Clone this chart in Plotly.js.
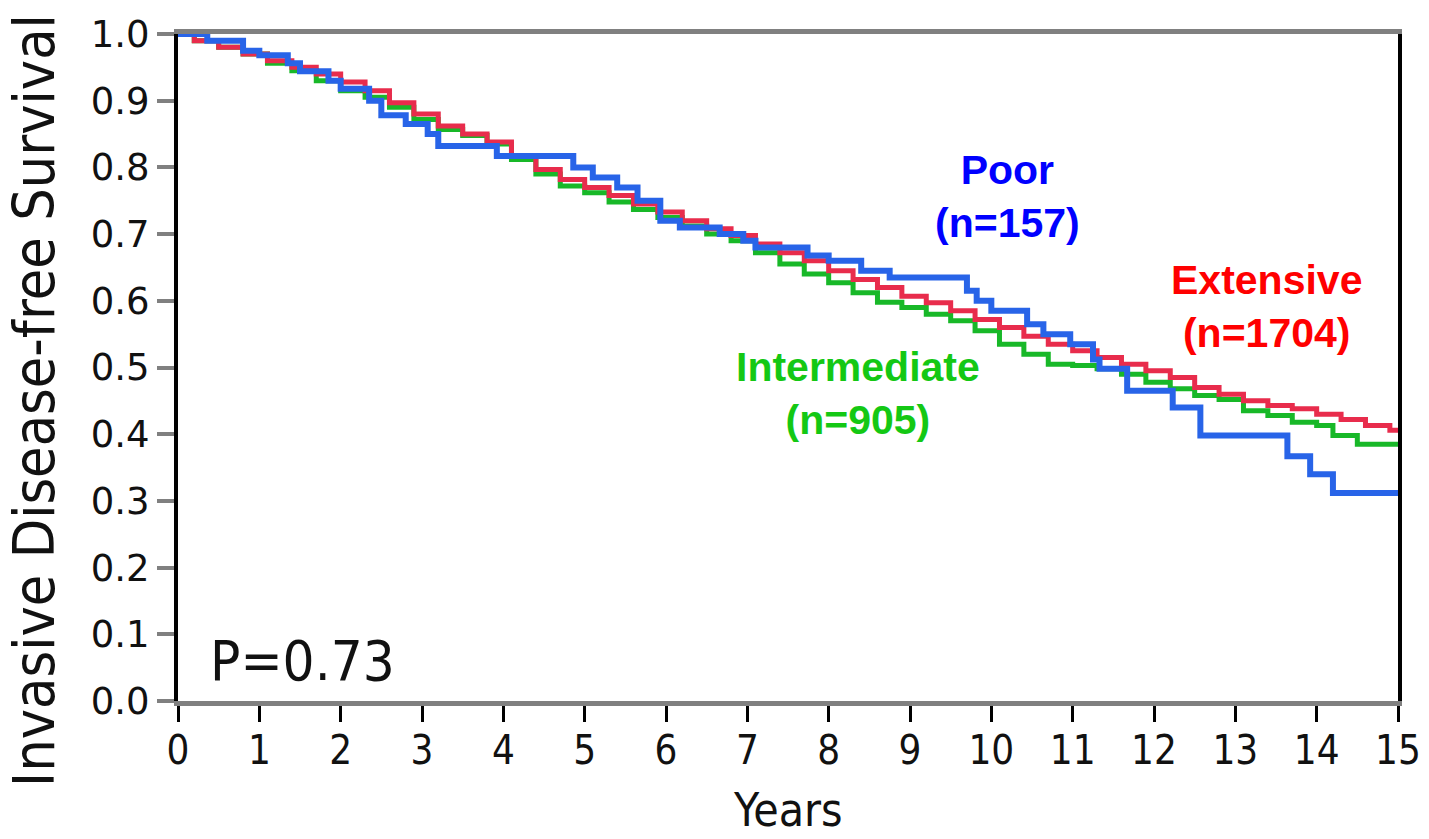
<!DOCTYPE html>
<html>
<head>
<meta charset="utf-8">
<script src="https://cdn.plot.ly/plotly-3.0.1.min.js"></script>
<style>html,body{margin:0;padding:0;background:#fff;}#chart{width:1429px;height:839px;}</style>
</head>
<body>
<div id="chart"></div>
<script>
// Extensive (n=1704)
const extYears = [0,0.2,0.5,0.8,1.1,1.4,1.7,2.0,2.3,2.6,2.9,3.2,3.5,3.8,4.1,4.4,4.7,5.0,5.3,5.6,5.9,6.2,6.5,6.8,7.1,7.4,7.7,8.0,8.3,8.6,8.9,9.2,9.5,9.8,10.1,10.4,10.7,11.0,11.3,11.6,11.9,12.2,12.5,12.8,13.1,13.4,13.7,14.0,14.3,14.6,14.9,15];
const extSurv  = [1.0,0.99,0.98,0.97,0.96,0.95,0.94,0.928,0.915,0.897,0.88,0.862,0.85,0.838,0.818,0.797,0.782,0.77,0.758,0.745,0.733,0.72,0.708,0.698,0.685,0.672,0.66,0.645,0.632,0.62,0.607,0.597,0.585,0.572,0.56,0.547,0.535,0.525,0.515,0.505,0.495,0.485,0.47,0.46,0.45,0.443,0.438,0.43,0.422,0.413,0.406,0.406];
// Intermediate (n=905)
const intYears = [0,0.2,0.5,0.8,1.1,1.4,1.7,2.0,2.3,2.6,2.9,3.2,3.5,3.8,4.1,4.4,4.7,5.0,5.3,5.6,5.9,6.2,6.5,6.8,7.1,7.4,7.7,8.0,8.3,8.6,8.9,9.2,9.5,9.8,10.1,10.4,10.7,11.0,11.3,11.6,11.9,12.2,12.5,12.8,13.1,13.4,13.7,14.0,14.2,14.5,15];
const intSurv  = [1.0,0.99,0.98,0.97,0.956,0.945,0.93,0.915,0.905,0.89,0.872,0.857,0.848,0.835,0.812,0.79,0.772,0.762,0.748,0.737,0.725,0.712,0.70,0.69,0.672,0.655,0.64,0.627,0.612,0.598,0.59,0.58,0.57,0.555,0.535,0.52,0.505,0.503,0.498,0.49,0.478,0.468,0.458,0.452,0.435,0.428,0.418,0.413,0.398,0.385,0.383];
// Poor (n=157)
const poorYears = [0,0.36,0.8,1.0,1.35,1.5,1.85,2.0,2.35,2.5,2.8,3.07,3.2,3.92,4.86,5.1,5.4,5.65,5.93,6.17,6.66,6.95,7.1,7.74,8.0,8.4,8.75,9.7,9.82,10.0,10.44,10.64,10.97,11.25,11.33,11.67,12.23,12.57,13.64,13.92,14.2,15];
const poorSurv  = [1.0,0.99,0.975,0.968,0.956,0.944,0.93,0.918,0.90,0.878,0.865,0.85,0.832,0.817,0.80,0.785,0.77,0.75,0.72,0.71,0.70,0.69,0.68,0.668,0.66,0.645,0.635,0.615,0.60,0.585,0.565,0.55,0.535,0.512,0.498,0.465,0.44,0.398,0.367,0.34,0.312,0.312];

const xTicks = [0,1,2,3,4,5,6,7,8,9,10,11,12,13,14,15];
const yTicks = [0,0.1,0.2,0.3,0.4,0.5,0.6,0.7,0.8,0.9,1.0];
const yTickText = ["0.0","0.1","0.2","0.3","0.4","0.5","0.6","0.7","0.8","0.9","1.0"];

const traces = [
  {x: intYears, y: intSurv, mode: 'lines', line: {shape: 'hv', color: 'rgb(24,184,40)', width: 5}, hoverinfo: 'skip'},
  {x: extYears, y: extSurv, mode: 'lines', line: {shape: 'hv', color: 'rgb(232,44,76)', width: 5}, hoverinfo: 'skip'},
  {x: poorYears, y: poorSurv, mode: 'lines', line: {shape: 'hv', color: 'rgb(40,100,232)', width: 6}, hoverinfo: 'skip'}
];

const labFont = (c) => ({family: 'Liberation Sans, Arial, sans-serif', size: 41, color: c, weight: 'bold'});

const layout = {
  width: 1429, height: 839,
  margin: {l: 178, r: 31, t: 34, b: 138},
  paper_bgcolor: '#fff', plot_bgcolor: '#fff',
  showlegend: false,
  xaxis: {
    range: [0, 15], tickvals: xTicks, ticktext: xTicks.map(String),
    showgrid: false, zeroline: false,
    showline: true, linecolor: '#808080', linewidth: 5, mirror: true,
    ticks: 'outside', ticklen: 16, tickwidth: 3, tickcolor: '#000',
    ticklabelstandoff: -6,
    tickfont: {family: 'DejaVu Sans Condensed, DejaVu Sans, sans-serif', size: 40, color: '#111'}
  },
  yaxis: {
    range: [0, 1], tickvals: yTicks, ticktext: yTickText,
    showgrid: false, zeroline: false,
    showline: true, linecolor: '#000', linewidth: 4, mirror: true,
    ticks: 'outside', ticklen: 17, tickwidth: 4, tickcolor: '#808080',
    tickfont: {family: 'DejaVu Sans, sans-serif', size: 37, color: '#111'}
  },
  annotations: [
    {text: 'Invasive Disease-free Survival', xref: 'paper', yref: 'paper', x: -0.118, y: 0.45, xanchor: 'center', yanchor: 'middle', textangle: -90, showarrow: false,
     font: {family: 'DejaVu Sans Condensed, DejaVu Sans, sans-serif', size: 57, color: '#111'}},
    {text: 'Years', xref: 'paper', yref: 'paper', x: 0.5, y: -0.121, xanchor: 'center', yanchor: 'top', showarrow: false, borderpad: 0,
     font: {family: 'DejaVu Sans Condensed, DejaVu Sans, sans-serif', size: 46, color: '#111'}},
    {text: 'P=0.73', xref: 'x', yref: 'y', x: 0.37, y: 0.061, xanchor: 'left', yanchor: 'middle', showarrow: false,
     font: {family: 'DejaVu Sans Condensed, DejaVu Sans, sans-serif', size: 56, color: '#111'}},
    {text: 'Poor<br>(n=157)', xref: 'x', yref: 'y', x: 10.2, y: 0.757, xanchor: 'center', yanchor: 'middle', showarrow: false, align: 'center',
     font: labFont('#0000ff')},
    {text: 'Extensive<br>(n=1704)', xref: 'x', yref: 'y', x: 13.38, y: 0.591, xanchor: 'center', yanchor: 'middle', showarrow: false, align: 'center',
     font: labFont('#ff0000')},
    {text: 'Intermediate<br>(n=905)', xref: 'x', yref: 'y', x: 8.36, y: 0.461, xanchor: 'center', yanchor: 'middle', showarrow: false, align: 'center',
     font: labFont('#14c814')}
  ]
};

Plotly.newPlot('chart', traces, layout, {staticPlot: true, displayModeBar: false});
</script>
</body>
</html>
